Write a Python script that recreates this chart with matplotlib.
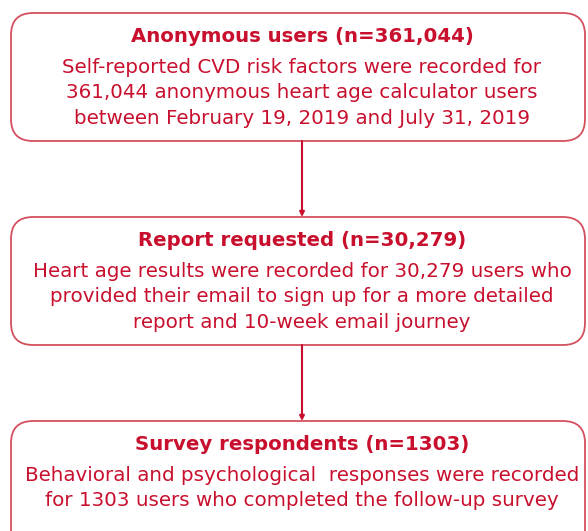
import matplotlib
matplotlib.use('agg')
import matplotlib.pyplot as plt
from matplotlib.patches import FancyBboxPatch

plt.rcParams['font.family'] = ['DejaVu Sans']

red = '#c8102e'
edge = '#d4505f'

titles = ['Anonymous users (n=361,044)',
          'Report requested (n=30,279)',
          'Survey respondents (n=1303)']
bodies = ['Self-reported CVD risk factors were recorded for\n'
          '361,044 anonymous heart age calculator users\n'
          'between February 19, 2019 and July 31, 2019',
          'Heart age results were recorded for 30,279 users who\n'
          'provided their email to sign up for a more detailed\n'
          'report and 10-week email journey',
          'Behavioral and psychological  responses were recorded\n'
          'for 1303 users who completed the follow-up survey']

# box tops / bottoms in pixels (y down)
box_top = [13, 217, 421]
box_bot = [141, 345, 560]
cx = 302

fig = plt.figure(figsize=(5.88, 5.31), dpi=100)
ax = fig.add_axes([0, 0, 1, 1])
ax.set_xlim(0, 588)
ax.set_ylim(531, 0)
ax.axis('off')

for i in range(3):
    t, b = box_top[i], box_bot[i]
    ax.add_patch(FancyBboxPatch((11, t), 574, b - t,
                                boxstyle='round,pad=0,rounding_size=22',
                                fc='white', ec=edge, lw=1.3))
    ax.text(cx, t + 23, titles[i], ha='center', va='center',
            color=red, fontsize=14.2, fontweight='bold')
    ax.text(cx, t + 45, bodies[i], ha='center', va='top',
            color=red, fontsize=14.3, linespacing=1.42)
    if i < 2:
        ax.annotate('', xy=(cx, box_top[i + 1]), xytext=(cx, b),
                    arrowprops=dict(arrowstyle='-|>', color=red, lw=1.5,
                                    mutation_scale=7, shrinkA=0, shrinkB=0))

fig.savefig('out.png', dpi=100)
